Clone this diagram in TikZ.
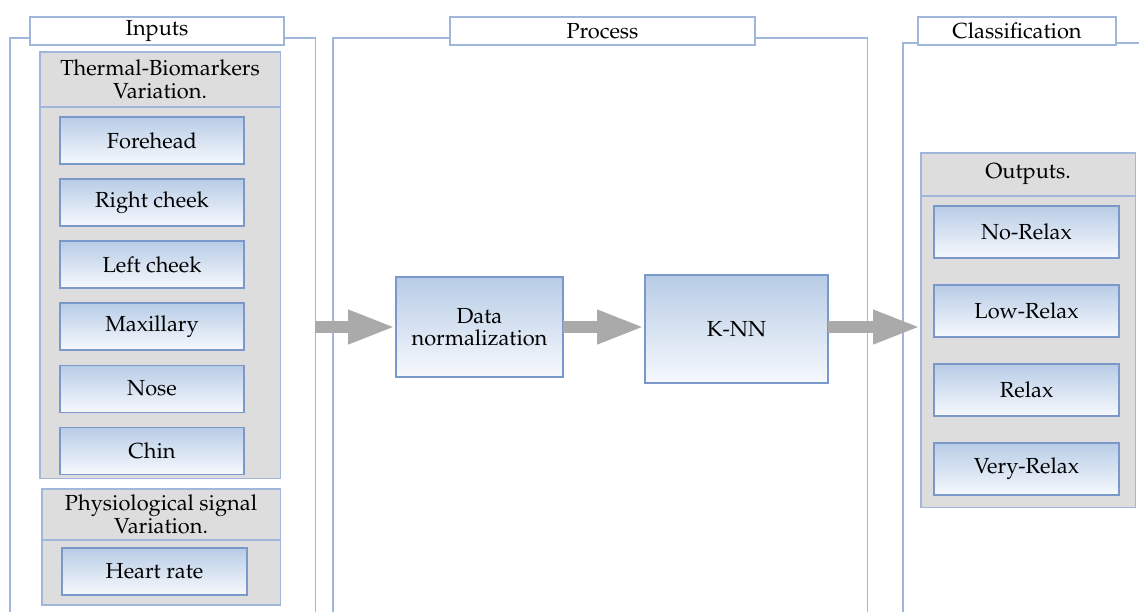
\documentclass[tikz,border=0pt]{standalone}
\usepackage[T1]{fontenc}
\usepackage{mathpazo}
\usepackage{tikz}
\usetikzlibrary{arrows.meta,positioning,shapes}

\definecolor{panelblue}{RGB}{160,182,218}
\definecolor{edgeblue}{RGB}{122,152,202}
\definecolor{boxtop}{RGB}{184,204,230}
\definecolor{boxbottom}{RGB}{246,249,253}
\definecolor{groupgray}{RGB}{221,221,221}
\definecolor{flowgray}{RGB}{170,170,170}

\begin{document}
\begin{tikzpicture}[x=0.025cm, y=-0.025cm,
		every node/.style = {font=\fontsize{15.5}{16}\selectfont, inner sep=0pt, outer sep=0pt},
		panel/.style  = {draw=panelblue, line width=0.8pt, rectangle, anchor=north west, minimum height=15cm},
		title/.style  = {draw=panelblue, line width=0.8pt, fill=white, rectangle, minimum height=0.7cm},
		grouphead/.style = {draw=panelblue, line width=0.8pt, fill=groupgray, rectangle, align=center, anchor=north west},
		groupbody/.style = {draw=panelblue, line width=0.8pt, fill=groupgray, rectangle, below=0pt of #1},
		item/.style   = {draw=edgeblue, line width=0.8pt, rectangle, top color=boxtop, bottom color=boxbottom, align=center},
		leaf/.style   = {item, minimum width=4.6cm, minimum height=1.175cm},
		flow/.style   = {draw=flowgray, line width=9pt, -{Triangle[length=34pt, width=22pt]}},
		>=latex]
		
		\useasboundingbox (0,0) rectangle (1139,612);
		
		% columns
		\node[panel, minimum width=7.625cm] (inpanel) at (10,38) {};
		\node[panel, minimum width=13.35cm] (procpanel) at (333,38) {};
		\node[panel, minimum width=6.5cm] (classpanel) at (903,43) {};
		
		\node[title, minimum width=6.35cm] (intitle) at (157,31) {Inputs};
		\node[title, minimum width=7.625cm] (proctitle) at (602.5,31) {Process};
		\node[title, minimum width=4.95cm] (classtitle) at (1017,31) {Classification};
		
		% thermal biomarkers
		\node[grouphead, minimum width=6cm, minimum height=1.375cm] (thermhead) at (40,52) {Thermal-Biomarkers\\Variation.};
		\node[groupbody=thermhead, minimum width=6cm, minimum height=9.275cm] (thermbody) {};
		
		\node[leaf] (t1) at (152,140.5) {Forehead};
		\node[leaf, below=0.375cm of t1] (t2) {Right cheek};
		\node[leaf, below=0.375cm of t2] (t3) {Left cheek};
		\node[leaf, below=0.375cm of t3] (t4) {Maxillary};
		\node[leaf, below=0.375cm of t4] (t5) {Nose};
		\node[leaf, below=0.375cm of t5] (t6) {Chin};
		
		% physiological signal
		\node[grouphead, minimum width=5.95cm, minimum height=1.275cm] (physhead) at (42,489) {Physiological signal\\Variation.};
		\node[groupbody=physhead, minimum width=5.95cm, minimum height=1.625cm] (physbody) {};
		\node[leaf, minimum width=4.625cm] (p1) at (154.5,571.5) {Heart rate};
		
		% process
		\node[item, minimum width=4.175cm, minimum height=2.5cm] (dn) at (479.5,327) {Data\\normalization};
		\node[item, minimum width=4.575cm, minimum height=2.7cm] (knn) at (736.5,329) {K-NN};
		
		% outputs
		\node[grouphead, minimum width=5.35cm, minimum height=1.075cm] (outhead) at (921,153) {Outputs.};
		\node[groupbody=outhead, minimum width=5.35cm, minimum height=7.775cm] (outbody) {};
		
		\foreach \name [count=\i] in {No-Relax,Low-Relax,Relax,Very-Relax}
		\node[item, minimum width=4.625cm, minimum height=1.3cm] (o\i) at (1026.5,{232+(\i-1)*79}) {\name};
		
		\draw[flow] (inpanel.east |- dn.west) -- (dn.west);
		\draw[flow] (dn.east) -- (knn.west |- dn.east);
		\draw[flow] (knn.east |- dn.east) -- (outbody.west |- dn.east);
		
	\end{tikzpicture}
\end{document}
